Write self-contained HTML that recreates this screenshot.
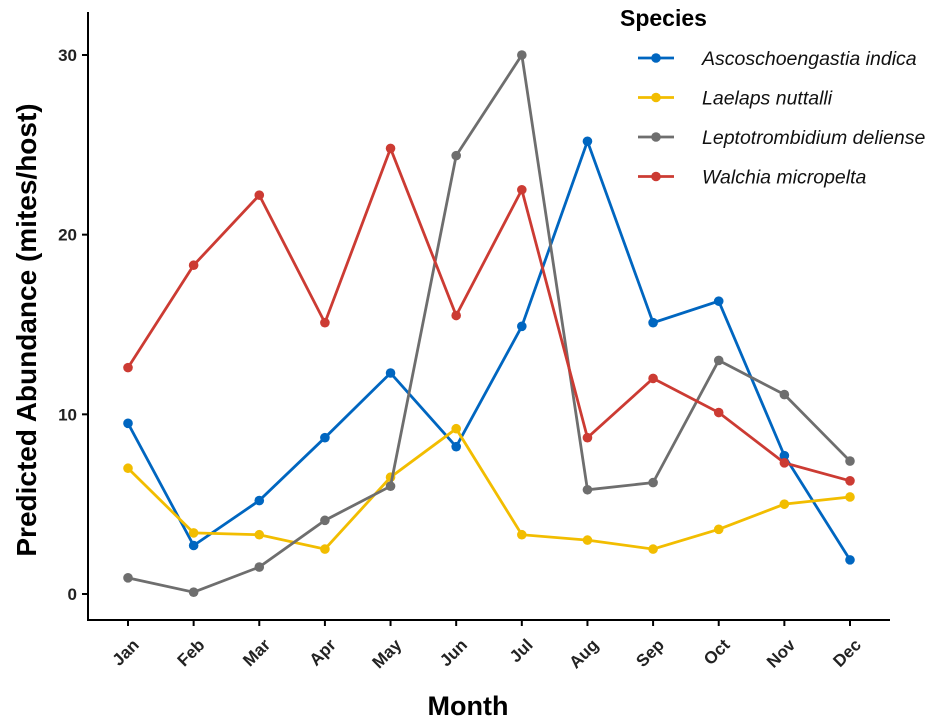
<!DOCTYPE html>
<html><head><meta charset="utf-8"><style>
body{margin:0;background:#fff;}
svg{display:block;font-family:"Liberation Sans",Arial,sans-serif;}
</style></head><body>
<svg id="chart" width="935" height="721"></svg>
<script>
const months=["Jan","Feb","Mar","Apr","May","Jun","Jul","Aug","Sep","Oct","Nov","Dec"];
const seriesNames=["Ascoschoengastia indica","Laelaps nuttalli","Leptotrombidium deliense","Walchia micropelta"];
const seriesColors=["#0066c0","#f2bd00","#6e6e6e","#cc3b33"];
const ascoValues=[9.5,2.7,5.2,8.7,12.3,8.2,14.9,25.2,15.1,16.3,7.7,1.9];
const laelapsValues=[7.0,3.4,3.3,2.5,6.5,9.2,3.3,3.0,2.5,3.6,5.0,5.4];
const leptoValues=[0.9,0.1,1.5,4.1,6.0,24.4,30.0,5.8,6.2,13.0,11.1,7.4];
const walchiaValues=[12.6,18.3,22.2,15.1,24.8,15.5,22.5,8.7,12.0,10.1,7.3,6.3];
const yTicks=[0,10,20,30];
const allSeries=[ascoValues,laelapsValues,leptoValues,walchiaValues];
const NS="http://www.w3.org/2000/svg";
const svg=document.getElementById('chart');
function xs(i){return 128+i*(850-128)/11;}
function ys(v){return 594-v*(594-55)/30;}
function mk(t,a,p){const e=document.createElementNS(NS,t);for(const k in a)e.setAttribute(k,a[k]);(p||svg).appendChild(e);return e;}
let e;
e=mk('line',{x1:88,y1:12,x2:88,y2:621,stroke:'#000','stroke-width':2});


e=mk('line',{x1:87,y1:620,x2:890,y2:620,stroke:'#000','stroke-width':2});


yTicks.forEach(v=>{
  e=mk('line',{x1:82,y1:ys(v),x2:88,y2:ys(v),stroke:'#000','stroke-width':2});
  
  
  e=mk('text',{x:77,y:ys(v)+6,'text-anchor':'end','font-size':17,'font-weight':'bold',fill:'#222'});
  e.textContent=v;
  
  
});
months.forEach((m,i)=>{
  e=mk('line',{x1:xs(i),y1:620,x2:xs(i),y2:626,stroke:'#000','stroke-width':2});
  
  
  const x=xs(i)+12,y=646;
  e=mk('text',{x:x,y:y,'text-anchor':'end','font-size':17,'font-weight':'bold',fill:'#222',transform:`rotate(-45 ${x} ${y})`});
  e.textContent=m;
  
  
});
e=mk('text',{x:468,y:715,'text-anchor':'middle','font-size':27,'font-weight':'bold'});
e.textContent='Month';


e=mk('text',{x:36,y:330,'text-anchor':'middle','font-size':28,'font-weight':'bold',transform:'rotate(-90 36 330)'});
e.textContent='Predicted Abundance (mites/host)';


allSeries.forEach((vals,s)=>{
  const g=mk('g',{});
  
  
  const pl=mk('polyline',{points:vals.map((v,i)=>xs(i)+','+ys(v)).join(' '),fill:'none',stroke:seriesColors[s],'stroke-width':2.8},g);
  
  
  vals.forEach((v,i)=>{
    const c=mk('circle',{cx:xs(i),cy:ys(v),r:4.8,fill:seriesColors[s]},g);
    
    
  });
});
e=mk('text',{x:620,y:26,'font-size':23,'font-weight':'bold'});
e.textContent='Species';


seriesNames.forEach((n,s)=>{
  const y=58+s*39.5;
  const g=mk('g',{});
  
  
  mk('line',{x1:638,y1:y,x2:674,y2:y,stroke:seriesColors[s],'stroke-width':2.8},g);
  mk('circle',{cx:656,cy:y,r:4.8,fill:seriesColors[s]},g);
  const t=mk('text',{x:702,y:y+7,'font-size':19.5,'font-style':'italic',fill:'#111'},g);
  t.textContent=n;
});
</script>
</body></html>
